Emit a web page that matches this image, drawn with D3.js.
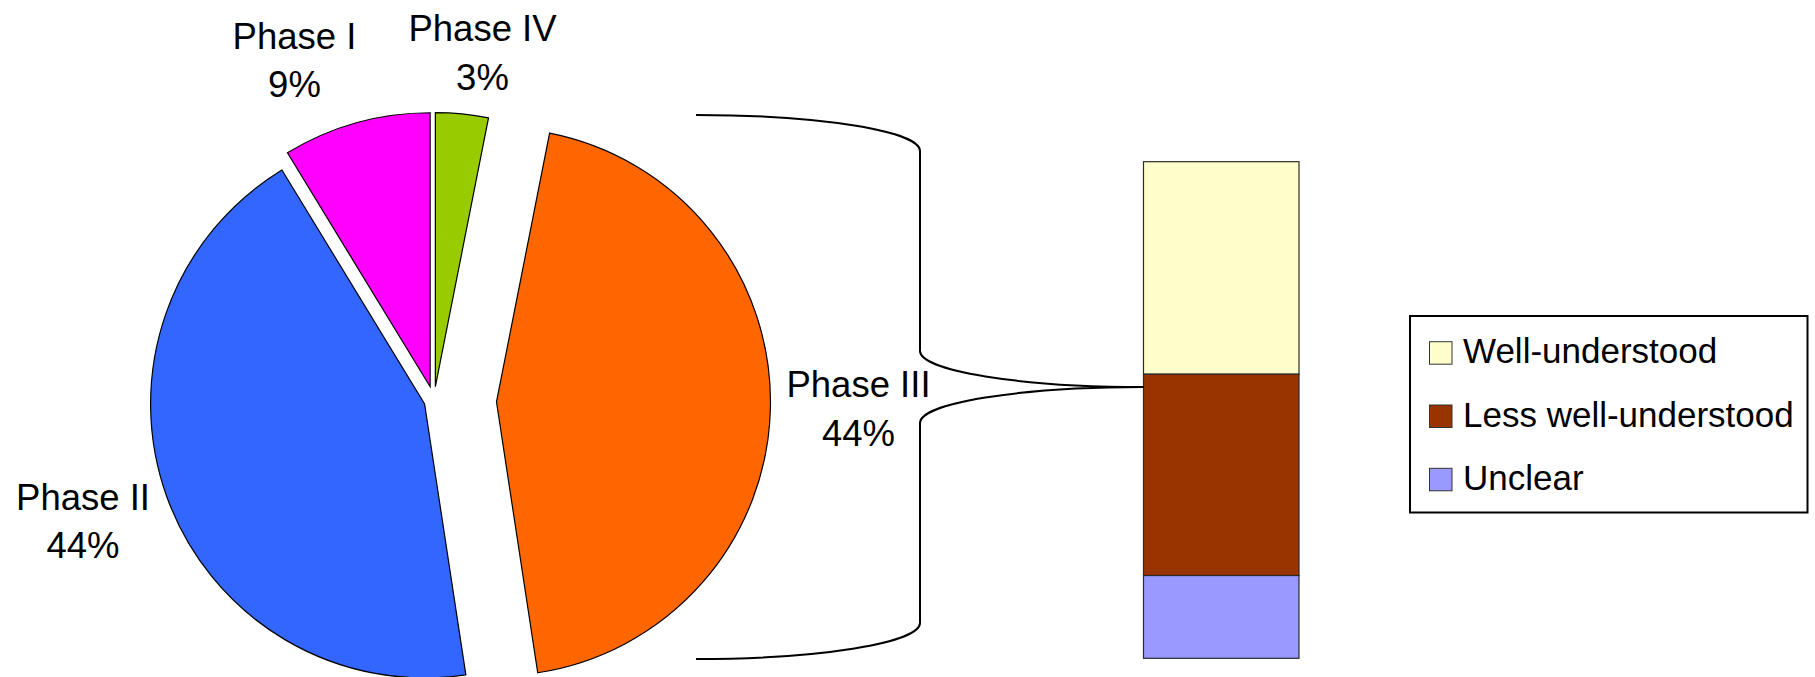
<!DOCTYPE html>
<html>
<head>
<meta charset="utf-8">
<script src="https://cdn.jsdelivr.net/npm/d3@7/dist/d3.min.js"></script>
<style>
  html, body { margin: 0; padding: 0; background: #ffffff; }
  svg { display: block; }
  text { font-family: "Liberation Sans", Arial, Helvetica, sans-serif; fill: #000; }
</style>
</head>
<body>
<svg id="chart" width="1815" height="677"></svg>
<script>
// Trial phases (share of all trials, %)
const phases = ["Phase I", "Phase II", "Phase III", "Phase IV"];
const phaseValues = [8.7, 43.6, 44.4, 3.1];
const phaseColors = ["#FF00FF", "#3366FF", "#FF6600", "#99CC00"];

// Breakdown of the Phase III slice (share of all trials, %)
const breakdown = ["Well-understood", "Less well-understood", "Unclear"];
const breakdownValues = [19.0, 18.0, 7.4];
const breakdownColors = ["#FFFFCC", "#993300", "#9999FF"];

// Layout
const W = 1815, H = 677;
const pieCx = 434, pieCy = 400.5, pieR = 274;
const explode = [14.3, 10, 62.5, 13.9];           // slice offsets in px
const labelAnchors = [[294.5, 48.8], [83, 509.5], [858.5, 397], [482.5, 41]];
const lineGap = 48.6;
const labelSize = 36.5;
const bar = { x0: 1143.5, x1: 1299, top: 161.7, bottom: 658.3 };
const brace = { x0: 696, xMid: 920, top: 115, bottom: 659, tipY: 387, curlY: 36 };
const legendBox = { x: 1410, y: 316, w: 397.5, h: 196.5 };

const svg = d3.select("#chart");

// ---- pie ----
const total = d3.sum(phaseValues);
const pie = d3.pie().sort(null).value(d => d).startAngle(2 * Math.PI).endAngle(0);
const arcs = pie(phaseValues);
const arc = d3.arc().innerRadius(0).outerRadius(pieR);

const gPie = svg.append("g").attr("transform", `translate(${pieCx},${pieCy})`);
gPie.selectAll("path.slice")
  .data(arcs)
  .join("path")
  .attr("class", "slice")
  .attr("d", arc)
  .attr("transform", (d, i) => {
    const mid = (d.startAngle + d.endAngle) / 2;
    return `translate(${explode[i] * Math.sin(mid)},${-explode[i] * Math.cos(mid)})`;
  })
  .attr("fill", (d, i) => phaseColors[i])
  .attr("stroke", "#000")
  .attr("stroke-width", 1.2)
  .attr("stroke-linejoin", "miter");

// slice labels: name + rounded share
const gLabels = svg.append("g");
phases.forEach((name, i) => {
  const [lx, ly] = labelAnchors[i];
  const t = gLabels.append("text")
    .attr("text-anchor", "middle")
    .attr("font-size", labelSize);
  t.append("tspan").attr("x", lx).attr("y", ly).text(name);
  t.append("tspan").attr("x", lx).attr("y", ly + lineGap)
    .text(Math.round(phaseValues[i] / total * 100) + "%");
});

// ---- stacked breakdown bar ----
const y = d3.scaleLinear()
  .domain([0, d3.sum(breakdownValues)])
  .range([bar.top, bar.bottom]);
let acc = 0;
const stacks = breakdownValues.map((v, i) => {
  const s = { i, y0: acc, y1: acc + v };
  acc += v;
  return s;
});
svg.append("g").selectAll("rect")
  .data(stacks)
  .join("rect")
  .attr("x", bar.x0)
  .attr("width", bar.x1 - bar.x0)
  .attr("y", d => y(d.y0))
  .attr("height", d => y(d.y1) - y(d.y0))
  .attr("fill", d => breakdownColors[d.i])
  .attr("stroke", "#2a2a2a")
  .attr("stroke-width", 1.2);

// ---- brace linking the Phase III slice to the bar ----
const b = brace;
const rx1 = b.xMid - b.x0, rx2 = bar.x0 - b.xMid;
const bracePath = [
  `M${b.x0},${b.top}`,
  `A${rx1},${b.curlY} 0 0 1 ${b.xMid},${b.top + b.curlY}`,
  `V${b.tipY - b.curlY}`,
  `A${rx2},${b.curlY} 0 0 0 ${bar.x0},${b.tipY}`,
  `A${rx2},${b.curlY} 0 0 0 ${b.xMid},${b.tipY + b.curlY}`,
  `V${b.bottom - b.curlY}`,
  `A${rx1},${b.curlY} 0 0 1 ${b.x0},${b.bottom}`
].join(" ");
svg.append("path")
  .attr("d", bracePath)
  .attr("fill", "none")
  .attr("stroke", "#000")
  .attr("stroke-width", 2);

// ---- legend ----
const gLeg = svg.append("g");
gLeg.append("rect")
  .attr("x", legendBox.x).attr("y", legendBox.y)
  .attr("width", legendBox.w).attr("height", legendBox.h)
  .attr("fill", "#fff").attr("stroke", "#000").attr("stroke-width", 2);
const legRow = d3.scalePoint().domain(breakdown).range([341.7, 468.3]);
breakdown.forEach((name, i) => {
  const ry = legRow(name);
  gLeg.append("rect")
    .attr("x", 1429.5).attr("y", ry)
    .attr("width", 22.5).attr("height", 22.5)
    .attr("fill", breakdownColors[i])
    .attr("stroke", "#333").attr("stroke-width", 1);
  gLeg.append("text")
    .attr("x", 1463).attr("y", ry + 21.6)
    .attr("font-size", 35)
    .text(name);
});
</script>
</body>
</html>
